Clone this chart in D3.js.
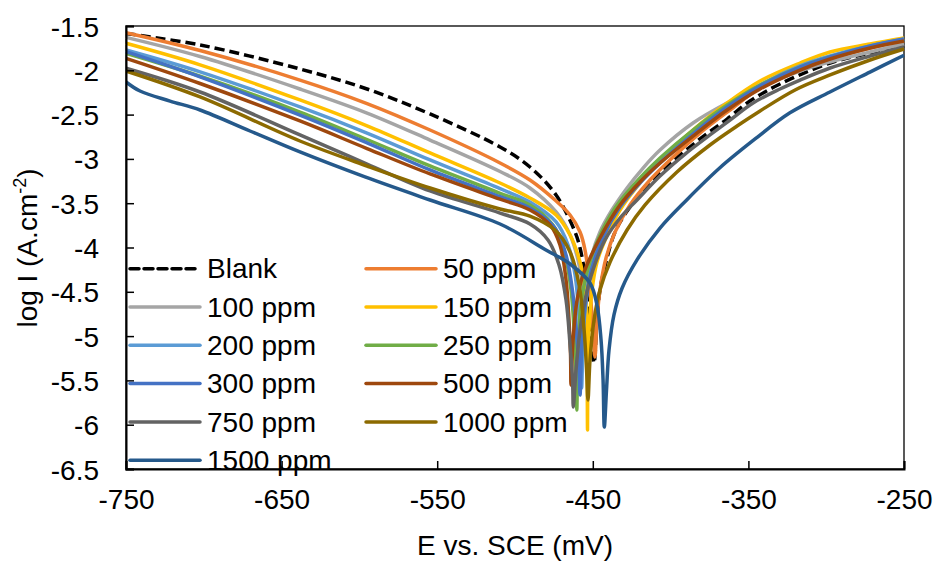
<!DOCTYPE html>
<html>
<head>
<meta charset="utf-8">
<script src="https://cdn.jsdelivr.net/npm/d3@7"></script>
<style>
  body { margin: 0; background: #fff; }
  text { font-family: "Liberation Sans", Arial, sans-serif; fill: #000; }
</style>
</head>
<body>
<div class="chart"></div>
<script>
// Tafel curves, [E (mV vs SCE), log I]
var blank = [[-750,-1.585],[-702.4,-1.714],[-638.2,-1.985],[-595.1,-2.211],[-554.6,-2.493],[-509.6,-2.866],[-490.4,-3.091],[-473.6,-3.408],[-461.4,-3.825],[-458.2,-4.006],[-455.0,-4.31],[-451.8,-4.762],[-449.2,-5.304],
  [-447.3,-4.818],[-445.4,-4.48],[-441.5,-4.164],[-435.7,-3.825],[-426.1,-3.543],[-413.2,-3.283],[-400.4,-3.058],[-381.1,-2.775],[-363.7,-2.55],[-349.0,-2.347],[-329.7,-2.155],[-297.5,-1.918],[-271.8,-1.805],[-250,-1.726]];
var ppm50 = [[-750,-1.576],[-702.4,-1.777],[-638.2,-2.11],[-595.1,-2.375],[-554.6,-2.674],[-509.6,-3.046],[-490.4,-3.238],[-474.3,-3.464],[-464.6,-3.633],[-458.2,-3.825],[-455.0,-4.028],[-451.8,-4.48],[-449.9,-4.931],[-448.6,-5.236],
  [-447.3,-4.818],[-445.4,-4.48],[-441.5,-4.119],[-435.7,-3.825],[-426.1,-3.52],[-413.2,-3.238],[-400.4,-3.012],[-381.1,-2.708],[-361.8,-2.448],[-342.5,-2.20],[-316.8,-1.997],[-297.5,-1.872],[-271.8,-1.748],[-250,-1.669]];
var ppm100 = [[-750,-1.628],[-702.4,-1.844],[-638.2,-2.211],[-595.1,-2.482],[-554.6,-2.787],[-509.6,-3.142],[-490.4,-3.328],[-473.6,-3.599],[-464.6,-3.859],[-459.5,-4.141],[-456.3,-4.48],[-455.0,-4.818],
  [-453.7,-4.48],[-450.5,-4.085],[-445.4,-3.825],[-437.7,-3.577],[-428.0,-3.328],[-417.7,-3.103],[-406.8,-2.90],[-385.6,-2.595],[-363.7,-2.369],[-342.5,-2.188],[-316.8,-2.008],[-297.5,-1.906],[-271.8,-1.793],[-250,-1.703]];
var ppm150 = [[-750,-1.695],[-702.4,-1.938],[-638.2,-2.335],[-595.1,-2.626],[-554.6,-2.933],[-509.6,-3.272],[-490.4,-3.441],[-473.6,-3.633],[-464.6,-3.859],[-459.5,-4.085],[-456.3,-4.31],[-454.4,-4.649],[-453.7,-5.27],[-453.4,-6.06],
  [-453.2,-5.496],[-452.4,-4.931],[-450.5,-4.48],[-447.3,-4.164],[-442.1,-3.915],[-432.5,-3.577],[-419.7,-3.272],[-406.8,-3.012],[-385.6,-2.674],[-363.7,-2.369],[-342.5,-2.121],[-316.8,-1.918],[-297.5,-1.793],[-271.8,-1.703],[-250,-1.635]];
var ppm200 = [[-750,-1.771],[-702.4,-2.017],[-638.2,-2.414],[-595.1,-2.708],[-554.6,-3.012],[-509.6,-3.336],[-490.4,-3.487],[-473.6,-3.712],[-465.9,-3.972],[-461.4,-4.31],[-458.8,-4.818],[-457.9,-5.213],[-457.2,-5.586],
  [-456.3,-5.101],[-454.4,-4.593],[-450.5,-4.198],[-443.4,-3.859],[-432.5,-3.52],[-419.7,-3.25],[-406.8,-3.024],[-385.6,-2.696],[-363.7,-2.403],[-342.5,-2.166],[-316.8,-1.951],[-297.5,-1.839],[-271.8,-1.726],[-250,-1.647]];
var ppm250 = [[-750,-1.808],[-702.4,-2.067],[-638.2,-2.471],[-595.1,-2.781],[-554.6,-3.08],[-509.6,-3.388],[-490.4,-3.52],[-475.6,-3.746],[-468.5,-4.028],[-464.0,-4.48],[-461.7,-5.044],[-460.8,-5.496],[-460.3,-5.834],
  [-459.5,-5.157],[-457.6,-4.649],[-453.7,-4.277],[-446.7,-3.915],[-435.7,-3.554],[-419.7,-3.216],[-406.8,-2.99],[-385.6,-2.674],[-363.7,-2.392],[-342.5,-2.166],[-316.8,-1.963],[-297.5,-1.85],[-271.8,-1.737],[-250,-1.658]];
var ppm300 = [[-750,-1.79],[-702.4,-2.074],[-638.2,-2.505],[-595.1,-2.818],[-554.6,-3.125],[-509.6,-3.426],[-490.4,-3.554],[-474.3,-3.78],[-467.2,-4.085],[-462.7,-4.536],[-460.1,-5.044],[-458.8,-5.383],[-458.2,-5.665],
  [-456.9,-5.044],[-454.4,-4.593],[-450.5,-4.231],[-443.4,-3.882],[-432.5,-3.543],[-419.7,-3.272],[-406.8,-3.046],[-385.6,-2.719],[-363.7,-2.414],[-342.5,-2.177],[-316.8,-1.963],[-297.5,-1.85],[-271.8,-1.726],[-250,-1.647]];
var ppm500 = [[-750,-1.865],[-702.4,-2.149],[-638.2,-2.572],[-595.1,-2.883],[-554.6,-3.17],[-509.6,-3.455],[-490.4,-3.577],[-477.5,-3.746],[-471.1,-3.972],[-467.2,-4.367],[-465.3,-4.818],[-464.3,-5.213],[-464.0,-5.552],
  [-462.7,-5.044],[-460.1,-4.593],[-456.3,-4.311],[-445.4,-3.893],[-432.5,-3.52],[-419.7,-3.261],[-406.8,-3.046],[-385.6,-2.742],[-363.7,-2.448],[-342.5,-2.211],[-316.8,-1.997],[-297.5,-1.872],[-271.8,-1.748],[-250,-1.669]];
var ppm750 = [[-750,-1.977],[-702.4,-2.245],[-638.2,-2.73],[-595.1,-3.058],[-554.6,-3.362],[-509.6,-3.611],[-490.4,-3.735],[-478.8,-3.915],[-471.7,-4.198],[-467.2,-4.593],[-464.6,-5.101],[-463.0,-5.496],[-462.5,-5.80],
  [-460.8,-5.383],[-458.2,-4.931],[-455.0,-4.593],[-449.9,-4.254],[-442.2,-3.915],[-432.5,-3.667],[-421.6,-3.464],[-406.8,-3.193],[-390.7,-2.945],[-374.7,-2.73],[-361.8,-2.561],[-347.0,-2.369],[-329.7,-2.211],[-316.8,-2.11],[-297.5,-1.974],[-271.8,-1.839],[-250,-1.737]];
var ppm1000 = [[-750,-2.008],[-702.4,-2.301],[-638.2,-2.798],[-595.1,-3.08],[-554.6,-3.328],[-509.6,-3.565],[-490.4,-3.645],[-474.3,-3.803],[-464.6,-4.051],[-458.8,-4.423],[-455.6,-4.931],[-454.0,-5.383],[-453.1,-5.721],
  [-451.8,-5.27],[-449.2,-4.818],[-445.4,-4.48],[-438.9,-4.164],[-428.0,-3.803],[-416.4,-3.52],[-395.9,-3.148],[-374.7,-2.843],[-357.3,-2.629],[-342.5,-2.459],[-320.0,-2.222],[-297.5,-2.053],[-271.8,-1.884],[-250,-1.76]];
var ppm1500 = [[-750,-2.132],[-741.0,-2.234],[-721.7,-2.347],[-702.4,-2.448],[-670.3,-2.685],[-638.2,-2.922],[-596.4,-3.204],[-554.6,-3.464],[-509.6,-3.735],[-480.1,-4.028],[-464.6,-4.186],[-451.8,-4.401],[-447.3,-4.649],[-444.7,-5.044],[-443.4,-5.496],[-442.6,-6.026],
  [-441.2,-5.61],[-439.6,-5.16],[-436.4,-4.76],[-431.2,-4.46],[-421.6,-4.14],[-406.8,-3.78],[-389.5,-3.46],[-368.3,-3.10],[-345.7,-2.775],[-323.3,-2.48],[-297.6,-2.245],[-271.9,-2.02],[-250,-1.83]];

var seriesNames = ["Blank", "50 ppm", "100 ppm", "150 ppm", "200 ppm", "250 ppm", "300 ppm", "500 ppm", "750 ppm", "1000 ppm", "1500 ppm"];
var seriesData = [blank, ppm50, ppm100, ppm150, ppm200, ppm250, ppm300, ppm500, ppm750, ppm1000, ppm1500];
var seriesColors = ["#000000", "#ED7D31", "#A5A5A5", "#FFC000", "#5B9BD5", "#70AD47", "#4472C4", "#9E480E", "#636363", "#8C6A00", "#25598B"];

var xTicks = [-750, -650, -550, -450, -350, -250];
var yTicks = [-6.5, -6, -5.5, -5, -4.5, -4, -3.5, -3, -2.5, -2, -1.5];

var svgWidth = 936;
var svgHeight = 561;
var margin = { top: 26, right: 32, bottom: 92, left: 126 };
var width = svgWidth - margin.left - margin.right;
var height = svgHeight - margin.top - margin.bottom;

var svg = d3.select(".chart")
  .append("svg")
  .attr("width", svgWidth)
  .attr("height", svgHeight);

var chartGroup = svg.append("g")
  .attr("transform", `translate(${margin.left}, ${margin.top})`);

var xScale = d3.scaleLinear().domain([-750, -250]).range([0, width]);
var yScale = d3.scaleLinear().domain([-6.5, -1.5]).range([height, 0]);

// plot border (top and right)
chartGroup.append("rect")
  .attr("width", width)
  .attr("height", height)
  .attr("fill", "none")
  .attr("stroke", "#000")
  .attr("stroke-width", 1.3);

var line = d3.line()
  .x(d => xScale(d[0]))
  .y(d => yScale(d[1]))
  .curve(d3.curveCatmullRom.alpha(0.5));

chartGroup.selectAll(".curve")
  .data(seriesData)
  .join("path")
    .attr("class", "curve")
    .attr("d", line)
    .attr("fill", "none")
    .attr("stroke", (d, i) => seriesColors[i])
    .attr("stroke-width", 3.5)
    .attr("stroke-linejoin", "round")
    .attr("stroke-dasharray", (d, i) => i === 0 ? "10,5" : null);

// axes, ticks inside; plain hyphen for the minus like the original
var bottomAxis = d3.axisBottom(xScale).tickValues(xTicks).tickSize(-8).tickPadding(20).tickFormat(d => String(d));
var leftAxis = d3.axisLeft(yScale).tickValues(yTicks).tickSize(-8).tickPadding(27).tickFormat(d => String(d));

var gx = chartGroup.append("g")
  .attr("transform", `translate(0, ${height})`)
  .call(bottomAxis);
var gy = chartGroup.append("g")
  .call(leftAxis);

[gx, gy].forEach(function(g) {
  g.select(".domain").attr("stroke", "#000").attr("stroke-width", 2);
  g.selectAll(".tick line").attr("stroke", "#000").attr("stroke-width", 1.5);
  g.selectAll(".tick text")
    .attr("font-size", 28)
    .attr("font-family", "'Liberation Sans', Arial, sans-serif")
    .attr("fill", "#000");
});
gy.selectAll(".tick text").attr("dy", "0.36em");
gx.selectAll(".tick text").attr("dy", "0.71em");

// axis titles
svg.append("text")
  .attr("x", 515)
  .attr("y", 555)
  .attr("text-anchor", "middle")
  .attr("font-size", 28)
  .text("E vs. SCE (mV)");

var yTitle = svg.append("text")
  .attr("transform", "translate(37, 248) rotate(-90)")
  .attr("text-anchor", "middle")
  .attr("font-size", 28);
yTitle.append("tspan").text("log I (A.cm");
yTitle.append("tspan").attr("font-size", 18).attr("dy", -11).text("-2");
yTitle.append("tspan").attr("dy", 11).text(")");

// legend, two columns
var legend = svg.append("g");
legend.selectAll("g")
  .data(seriesNames)
  .join("g")
    .attr("transform", (d, i) => `translate(${i % 2 === 0 ? 130 : 366}, ${268.7 + Math.floor(i / 2) * 38.3})`)
  .call(g => g.append("line")
      .attr("x1", 0).attr("x2", 70)
      .attr("stroke", (d, i) => seriesColors[i])
      .attr("stroke-width", 3.5)
      .attr("stroke-linecap", "round")
      .attr("stroke-dasharray", (d, i) => i === 0 ? "9,5" : null))
  .call(g => g.append("text")
      .attr("x", 77)
      .attr("y", 9.6)
      .attr("font-size", 28)
      .text(d => d));
</script>
</body>
</html>
